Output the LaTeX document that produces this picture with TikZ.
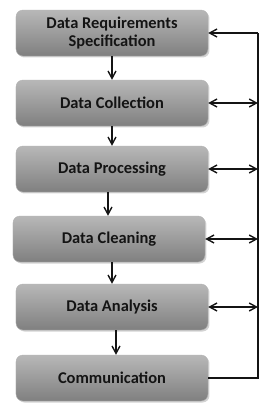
\documentclass[tikz,border=0pt]{standalone}
\usepackage{fontspec}
\setmainfont{Carlito}
\usetikzlibrary{arrows.meta,positioning,shadows}
\definecolor{ink}{RGB}{20,20,20}
\tikzset{
  stage/.style={draw=black!30, rounded corners=7pt, top color=black!28, bottom color=black!50,
                minimum width=192bp, minimum height=46bp, inner sep=2pt, align=center,
                font=\fontsize{16.5}{18.5}\selectfont\bfseries, text=ink,
                drop shadow={opacity=0.35, shadow xshift=1.5pt, shadow yshift=-1.5pt}},
  flow/.style={-{Straight Barb[length=2.6mm,width=2.8mm]}, line width=1.4pt, ink},
  both/.style={{Straight Barb[length=2.6mm,width=2.8mm]}-{Straight Barb[length=2.6mm,width=2.8mm]}, line width=1.4pt, ink},
  loop/.style={line width=1.4pt, ink},
}
\begin{document}
\begin{tikzpicture}[x=1bp,y=-1bp]
    \useasboundingbox (0,0) rectangle (271,414);
    % --- stages ---
    \node[stage] (reqs)    at (112,33)  {Data Requirements\\Specification};
    \node[stage] (collect) at (112,103) {Data Collection};
    \node[stage] (process) at (112,169) {Data Processing};
    \node[stage] (clean)   at (109,239) {Data Cleaning};
    \node[stage] (analyse) at (112,307) {Data Analysis};
    \node[stage] (comm)    at (112,378) {Communication};
    % --- downward flow ---
    \draw[flow] (reqs.south -| 112,0)    -- (collect.north -| 112,0);
    \draw[flow] (collect.south -| 112,0) -- (process.north -| 112,0);
    \draw[flow] (process.south -| 108,0) -- (clean.north -| 108,0);
    \draw[flow] (clean.south -| 112,0)   -- (analyse.north -| 112,0);
    \draw[flow] (analyse.south -| 116,0) -- (comm.north -| 116,0);
    % --- feedback rail ---
    \coordinate (top) at (258,33);
    \coordinate (bot) at (258,378);
    \draw[loop] (comm.east) -- (bot) -- (top);
    \draw[flow] (top) -- (reqs.east);
    \draw[both] (collect.east) -- (collect.east -| top);
    \draw[both] (process.east) -- (process.east -| top);
    \draw[both] (clean.east)   -- (clean.east -| top);
    \draw[both] (analyse.east) -- (analyse.east -| top);
\end{tikzpicture}
\end{document}
